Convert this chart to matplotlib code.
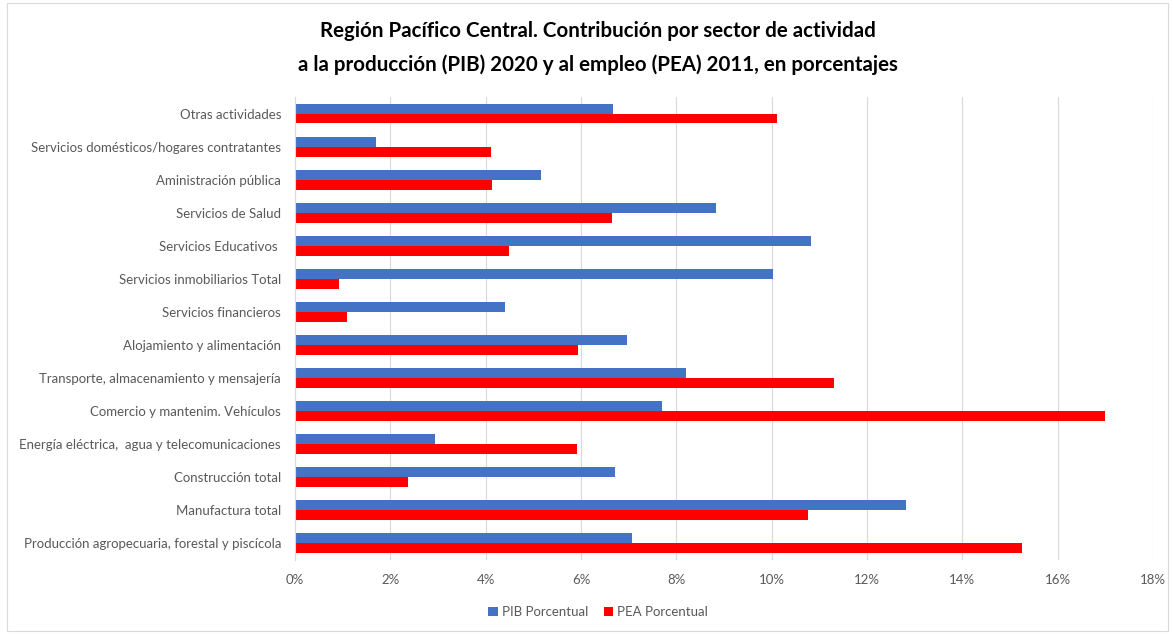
import numpy as np
import matplotlib.pyplot as plt
from matplotlib.ticker import FuncFormatter

plt.rcParams['font.family'] = ['Lato', 'DejaVu Sans']

sectors = [
    "Otras actividades",
    "Servicios domésticos/hogares contratantes",
    "Aministración pública",
    "Servicios de Salud",
    "Servicios Educativos ",
    "Servicios inmobiliarios Total",
    "Servicios financieros",
    "Alojamiento y alimentación",
    "Transporte, almacenamiento y mensajería",
    "Comercio y mantenim. Vehículos",
    "Energía eléctrica,  agua y telecomunicaciones",
    "Construcción total",
    "Manufactura total",
    "Producción agropecuaria, forestal y piscícola",
]
pib = [6.67, 1.70, 5.16, 8.83, 10.82, 10.03, 4.41, 6.96, 8.20, 7.70, 2.94, 6.71, 12.82, 7.07]
pea = [10.11, 4.11, 4.13, 6.65, 4.49, 0.92, 1.09, 5.94, 11.31, 16.99, 5.92, 2.37, 10.76, 15.25]

fig = plt.figure(figsize=(11.73, 6.34), dpi=100)
ax = fig.add_axes([0.2515, 0.117, 0.7315, 0.73])

y = np.arange(len(sectors))
h = 0.3
ax.barh(y - h / 2, pib, height=h, color="#4472C4", label="PIB Porcentual")
ax.barh(y + h / 2, pea, height=h, color="#FF0000", label="PEA Porcentual")

ax.set_ylim(len(sectors) - 0.5, -0.5)
ax.set_yticks(y)
ax.set_yticklabels(sectors)
ax.set_xlim(0, 18)
ax.set_xticks(np.arange(0, 19, 2))
ax.xaxis.set_major_formatter(FuncFormatter(lambda v, p: f"{v:.0f}%"))
ax.grid(axis="x", color="#d9d9d9", linewidth=0.8)
ax.set_axisbelow(True)
for s in ["top", "right", "bottom"]:
    ax.spines[s].set_visible(False)
ax.spines["left"].set_color("#d9d9d9")
ax.tick_params(length=0, labelsize=9.5, labelcolor="#595959")
ax.tick_params(axis="x", pad=10)
ax.tick_params(axis="y", pad=10)

fig.text(0.510, 0.924,
         "Región Pacífico Central. Contribución por sector de actividad\n"
         "a la producción (PIB) 2020 y al empleo (PEA) 2011, en porcentajes",
         ha="center", va="center", fontsize=14.8, fontweight="bold",
         linespacing=1.8)

fig.legend(loc="center", bbox_to_anchor=(0.51, 0.034), ncol=2, frameon=False,
           fontsize=9.5, handlelength=0.7, handleheight=0.7, columnspacing=1.2,
           handletextpad=0.3, labelcolor="#595959")

fig.add_artist(plt.Rectangle((0.006, 0.005), 0.99, 0.99, transform=fig.transFigure,
                             fill=False, edgecolor="#d9d9d9", linewidth=0.8))

fig.savefig("out.png", dpi=100)
plt.close()
